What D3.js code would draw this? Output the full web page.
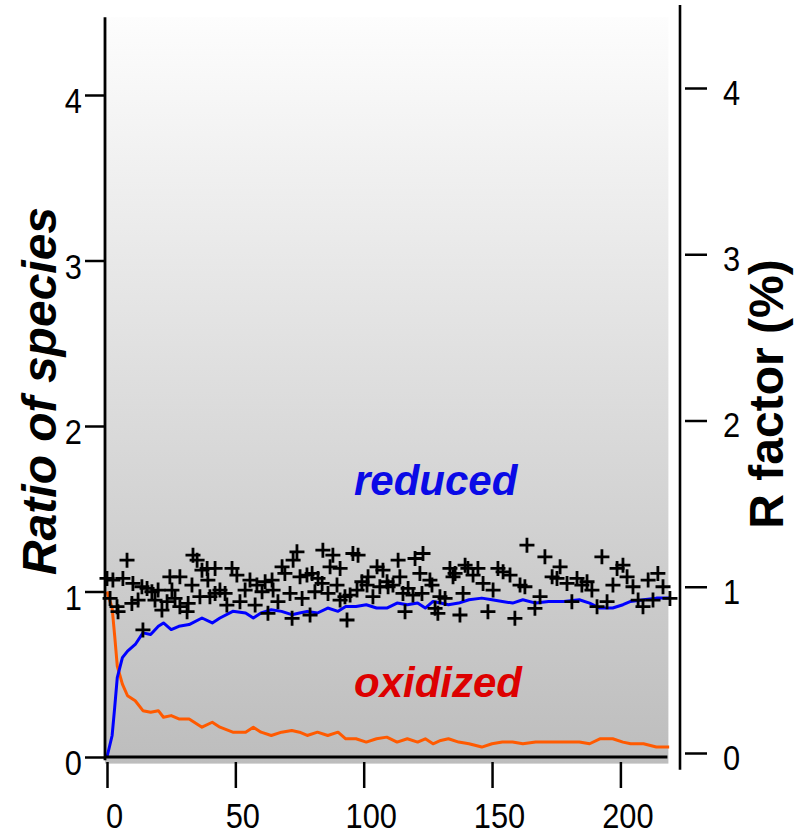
<!DOCTYPE html>
<meta charset="utf-8">
<head>
<script src="https://d3js.org/d3.v7.min.js"></script>
<style>
  body { margin: 0; background: #fff; }
  svg { display: block; }
  .tick text { font-family: "Liberation Sans Narrow", "Arial Narrow", "Liberation Sans", sans-serif; font-size: 35px; fill: #000; }
  .title { font-family: "Liberation Sans", Arial, Helvetica, sans-serif; font-weight: bold; }
</style>
</head>
<body>
<svg></svg>
<script>
// time axis (frames) shared by both species curves
var times = [0,2,3,4,6,8,11,14,17,20,22,25,28,32,37,41,44,49,54,57,60,64,68,72,75,78,82,86,90,93,
             97,101,105,109,113,117,121,124,127,130,133,137,141,146,150,154,158,162,167,172,178,184,188,192,197,201,204,209,214,219];
var reduced = [0,0.13,0.30,0.48,0.60,0.64,0.68,0.75,0.74,0.79,0.81,0.77,0.79,0.80,0.84,0.81,0.84,0.88,0.87,0.84,0.87,0.89,0.88,0.86,0.87,0.88,0.87,0.90,0.88,0.91,
               0.91,0.92,0.90,0.90,0.93,0.92,0.93,0.90,0.94,0.93,0.92,0.93,0.95,0.96,0.95,0.94,0.93,0.95,0.93,0.94,0.94,0.95,0.93,0.90,0.90,0.92,0.94,0.95,0.96,0.96];
var oxidized = [1.00,0.90,0.73,0.55,0.44,0.37,0.34,0.28,0.27,0.28,0.24,0.25,0.23,0.23,0.18,0.21,0.18,0.15,0.15,0.18,0.15,0.13,0.15,0.16,0.15,0.13,0.15,0.13,0.15,0.11,
                0.11,0.09,0.11,0.12,0.09,0.11,0.09,0.11,0.08,0.10,0.11,0.09,0.08,0.06,0.08,0.09,0.09,0.08,0.09,0.09,0.09,0.09,0.08,0.11,0.11,0.09,0.08,0.08,0.06,0.06];

// R factor points (right axis)
var rTime = [0,7.8,1.2,3.9,4.3,2.3,6.2,9.7,10.1,12.1,13.6,15.6,14.0,17.5,18.7,19.9,21.4,23.4,24.5,25.3,26.5,28.4,28.4,31.2,31.6,33.1,33.5,35.1,36.2,37.0,39.0,39.3,40.1,42.1,42.1,44.0,46.0,46.7,48.7,50.6,51.8,53.8,
  55.7,58.4,57.7,60.4,61.6,62.7,64.3,64.7,66.6,68.2,69.3,71.3,72.1,72.5,74.0,75.2,76.0,77.9,79.1,79.9,81.0,82.2,83.8,84.1,86.1,86.9,88.0,89.6,90.8,90.8,92.7,93.5,94.7,95.8,97.4,97.8,99.3,101.3,101.7,103.6,105.2,106.3,107.5,109.1,
  109.5,111.4,113.4,114.1,115.3,116.1,117.3,119.2,120.0,121.9,122.7,123.1,125.8,126.6,127.8,128.9,129.7,131.7,133.6,134.8,135.6,137.5,138.7,139.5,140.6,142.6,144.5,146.5,148.4,150.4,152.3,154.3,157.0,158.9,160.9,163.6,
  162.8,168.7,166.7,170.6,173.4,175.3,176.5,179.2,181.1,183.1,185.0,187.0,188.9,190.9,192.8,194.8,197.1,198.7,201.0,202.6,204.9,206.9,208.8,210.8,212.7,214.6,216.6,219.3];
var rFactor = [1.05,1.16,0.93,0.88,0.85,1.04,1.05,0.90,1.02,0.92,1.00,0.99,0.74,0.97,0.92,0.98,0.86,0.91,1.06,0.98,0.93,1.06,0.88,0.85,0.90,1.01,1.19,1.16,0.94,1.10,1.11,1.04,0.94,1.11,0.96,0.98,0.96,0.89,1.11,1.07,0.91,0.98,
  1.04,1.01,0.89,0.97,1.03,0.84,1.04,0.98,0.91,1.12,1.08,0.96,0.81,1.16,1.21,1.06,0.93,1.07,0.83,1.08,0.97,1.05,1.02,1.22,0.96,1.12,1.19,1.01,1.11,0.92,0.94,0.80,0.95,1.20,0.98,1.19,1.03,1.01,1.06,0.94,1.12,1.00,1.10,1.03,
  1.00,1.01,1.16,1.06,0.96,0.85,0.99,0.95,1.17,1.08,0.96,1.20,1.04,1.01,0.87,0.84,0.94,0.93,1.11,1.06,1.08,0.83,0.96,1.13,1.11,1.07,1.11,1.02,0.85,0.98,1.11,1.09,1.07,0.81,1.01,1.25,
  1.00,0.94,0.87,1.18,1.06,1.05,1.12,1.02,0.91,1.05,1.01,1.03,0.98,0.88,1.18,0.91,1.01,1.11,1.13,1.06,1.00,0.92,0.88,1.04,0.92,1.08,1.00,0.93];

var xTicks = [0, 50, 100, 150, 200];
var yTicks = [0, 1, 2, 3, 4];

var width = 806, height = 837;
var svg = d3.select('svg').attr('width', width).attr('height', height);

var x = d3.scaleLinear().domain([0, 200]).range([107, 620.4]);
var yL = d3.scaleLinear().domain([0, 4]).range([757, 95]);
var yR = d3.scaleLinear().domain([0, 4]).range([753, 88]);

// gray gradient background
var grad = svg.append('defs').append('linearGradient')
    .attr('id', 'bg').attr('x1', 0).attr('y1', 0).attr('x2', 0).attr('y2', 1);
grad.append('stop').attr('offset', '0%').attr('stop-color', '#fdfdfd');
grad.append('stop').attr('offset', '100%').attr('stop-color', '#bdbdbd');
svg.append('rect')
    .attr('x', x(-0.8)).attr('y', yL(4.47))
    .attr('width', x(218.7) - x(-0.8)).attr('height', yL(-0.04) - yL(4.47))
    .attr('fill', 'url(#bg)');

// species curves
var line = function(vals) {
  return d3.line()
    .x(function(d, i) { return x(times[i]); })
    .y(function(d) { return yL(d); })(vals);
};
svg.append('path').attr('d', line(oxidized))
    .attr('fill', 'none').attr('stroke', '#ff5a00').attr('stroke-width', 3).attr('stroke-linejoin', 'round');
svg.append('path').attr('d', line(reduced))
    .attr('fill', 'none').attr('stroke', '#0000ff').attr('stroke-width', 3).attr('stroke-linejoin', 'round');

// R factor crosses
svg.append('g').selectAll('path')
    .data(rTime)
    .enter().append('path')
    .attr('transform', function(d, i) { return 'translate(' + x(d) + ',' + yR(rFactor[i]) + ')'; })
    .attr('d', 'M-7.5,0H7.5M0,-7.5V7.5')
    .attr('stroke', '#000').attr('stroke-width', 2.8).attr('fill', 'none');

// axis lines
svg.append('line').attr('x1', 105).attr('x2', 105).attr('y1', yL(4.47)).attr('y2', yL(-0.02))
    .attr('stroke', '#000').attr('stroke-width', 2.8);
svg.append('line').attr('x1', 680).attr('x2', 680).attr('y1', yR(4.5)).attr('y2', yR(-0.1))
    .attr('stroke', '#000').attr('stroke-width', 2.6);
svg.append('line').attr('x1', 104).attr('x2', x(218.3)).attr('y1', 757).attr('y2', 757)
    .attr('stroke', '#000').attr('stroke-width', 3);

// squeeze tick digits to look condensed
function narrow(sel) {
  sel.each(function() {
    var w = this.getComputedTextLength();
    d3.select(this).attr('textLength', w * 0.88).attr('lengthAdjust', 'spacingAndGlyphs');
  });
}

// left axis
var gl = svg.append('g').attr('transform', 'translate(105,0)')
    .call(d3.axisLeft(yL).tickValues(yTicks).tickSize(20).tickPadding(3).tickFormat(d3.format('d')));
gl.select('.domain').remove();
gl.selectAll('.tick line').attr('stroke-width', 2.5);
gl.selectAll('.tick text').attr('dy', '0.5em').call(narrow);

// right axis (ticks detached from the line)
var gr = svg.append('g').attr('transform', 'translate(685,0)')
    .call(d3.axisRight(yR).tickValues(yTicks).tickSize(22).tickPadding(16).tickFormat(d3.format('d')));
gr.select('.domain').remove();
gr.selectAll('.tick line').attr('stroke-width', 2.5);
gr.selectAll('.tick text').attr('dy', '0.47em').call(narrow);

// bottom axis
var gb = svg.append('g').attr('transform', 'translate(0,762)')
    .call(d3.axisBottom(x).tickValues(xTicks).tickSize(26).tickPadding(15).tickFormat(d3.format('d')));
gb.select('.domain').remove();
gb.selectAll('.tick line').attr('stroke-width', 2.5);
gb.selectAll('.tick text').attr('dx', 7).call(narrow);

// titles
svg.append('text').attr('class', 'title')
    .attr('transform', 'translate(56,391) rotate(-90)')
    .attr('text-anchor', 'middle').style('font-style', 'italic').style('font-size', '48px')
    .text('Ratio of species');
svg.append('text').attr('class', 'title')
    .attr('transform', 'translate(783,394) rotate(-90)')
    .attr('text-anchor', 'middle').style('font-size', '48px')
    .text('R factor (%)');

svg.append('text').attr('class', 'title')
    .attr('x', 354).attr('y', 495).style('font-style', 'italic').style('font-size', '42px')
    .attr('fill', '#0a0ae6').text('reduced');
svg.append('text').attr('class', 'title')
    .attr('x', 354).attr('y', 697).style('font-style', 'italic').style('font-size', '42px')
    .attr('fill', '#dd0000').text('oxidized');
</script>
</body>
</html>
